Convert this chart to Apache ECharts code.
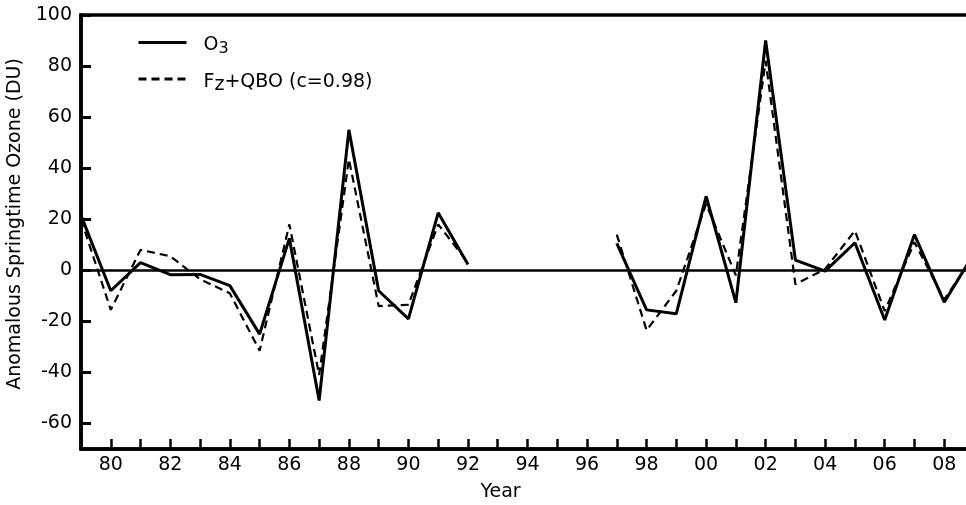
<!DOCTYPE html>
<html>
<head>
<meta charset="utf-8">
<script src="https://cdn.jsdelivr.net/npm/echarts@6/dist/echarts.min.js"></script>
<style>
  html, body { margin: 0; padding: 0; background: #fff; }
  #chart { width: 966px; height: 505px; }
</style>
</head>
<body>
<div id="chart"></div>
<script>
var years = [1979, 1980, 1981, 1982, 1983, 1984, 1985, 1986, 1987, 1988, 1989, 1990, 1991, 1992,
  1993, 1994, 1995, 1996,
  1997, 1998, 1999, 2000, 2001, 2002, 2003, 2004, 2005, 2006, 2007, 2008, 2009];

// O3 anomaly (solid)
var o3 = [21.5, -8, 3, -1.7, -1.6, -6, -25, 12.5, -51, 55, -8, -19, 22.5, 2.3,
  null, null, null, null,
  10.5, -15.5, -17, 29, -12.7, 90, 4, -0.3, 10.8, -19.5, 14, -12.5, 6.5];

// Fz+QBO fit (dashed)
var fzqbo = [20, -15.5, 8, 5.5, -3.5, -9, -31.5, 18, -41, 43.5, -14, -13.5, 18, 3,
  null, null, null, null,
  14, -23.5, -8, 26, -2, 82, -5.5, 0.5, 15.5, -16, 11, -11.5, 6];

var yTicks = [-60, -40, -20, 0, 20, 40, 60, 80, 100];
var seriesNames = ['O3', 'Fz+QBO (c=0.98)'];

function pairs(vals) {
  return years.map(function (y, i) { return [y, vals[i]]; });
}

var font = 'DejaVu Sans';

var option = {
  animation: false,
  backgroundColor: '#fff',
  textStyle: { fontFamily: font, color: '#000' },
  grid: {
    left: 81,
    right: -8,
    top: 15,
    bottom: 56,
    outerBoundsMode: 'none',
    containLabel: false,
    show: true,
    borderColor: '#000',
    borderWidth: 3.5
  },
  legend: {
    orient: 'vertical',
    left: 137,
    top: 36,
    padding: 0,
    itemWidth: 48,
    itemHeight: 14,
    itemGap: 16,
    data: seriesNames,
    itemStyle: { opacity: 0 },
    lineStyle: { width: 3 },
    textStyle: {
      fontFamily: font,
      fontSize: 19,
      color: '#000',
      padding: [12, 0, 0, 12],
      rich: {
        n: { fontFamily: font, fontSize: 19, color: '#000', padding: [0, 0, 6, 0] },
        s3: { fontFamily: font, fontSize: 16, color: '#000' },
        sz: { fontFamily: font, fontSize: 19, color: '#000' }
      }
    },
    formatter: function (name) {
      if (name === 'O3') return '{n|O}{s3|3}';
      return '{n|F}{sz|z}{n|+QBO (c=0.98)}';
    }
  },
  xAxis: {
    type: 'value',
    min: 1979,
    max: 2009,
    interval: 1,
    name: 'Year',
    nameLocation: 'middle',
    nameGap: 34,
    nameTextStyle: { fontFamily: font, fontSize: 19, color: '#000', padding: [0, 54, 0, 0] },
    axisLine: { onZero: false, lineStyle: { color: '#000', width: 3.5 } },
    axisTick: { inside: true, length: 10, lineStyle: { color: '#000', width: 2.5 } },
    axisLabel: {
      margin: 7,
      fontFamily: font,
      fontSize: 19,
      color: '#000',
      formatter: function (v) {
        if (v % 2 !== 0) return '';
        var s = String(v % 100);
        return s.length < 2 ? '0' + s : s;
      }
    },
    splitLine: { show: false }
  },
  yAxis: {
    type: 'value',
    min: -70,
    max: 100,
    name: 'Anomalous Springtime Ozone (DU)',
    nameLocation: 'middle',
    nameGap: 42,
    nameTextStyle: { fontFamily: font, fontSize: 19, color: '#000', padding: [0, 0, 0, 16] },
    axisLine: { show: true, onZero: false, lineStyle: { color: '#000', width: 3.5 } },
    axisTick: { inside: true, length: 10, customValues: yTicks, lineStyle: { color: '#000', width: 3 } },
    axisLabel: { margin: 9, fontFamily: font, fontSize: 19, color: '#000', customValues: yTicks },
    splitLine: { show: false }
  },
  series: [
    {
      name: seriesNames[0],
      type: 'line',
      symbol: 'none',
      data: pairs(o3),
      lineStyle: { color: '#000', width: 3 },
      itemStyle: { color: '#000' },
      markLine: {
        silent: true,
        symbol: ['none', 'none'],
        label: { show: false },
        lineStyle: { color: '#000', width: 2.5, type: 'solid' },
        data: [{ yAxis: 0 }]
      }
    },
    {
      name: seriesNames[1],
      type: 'line',
      symbol: 'none',
      data: pairs(fzqbo),
      lineStyle: { color: '#000', width: 2.2, type: [8, 5] },
      itemStyle: { color: '#000' }
    }
  ]
};

echarts.init(document.getElementById('chart')).setOption(option);
</script>
</body>
</html>
